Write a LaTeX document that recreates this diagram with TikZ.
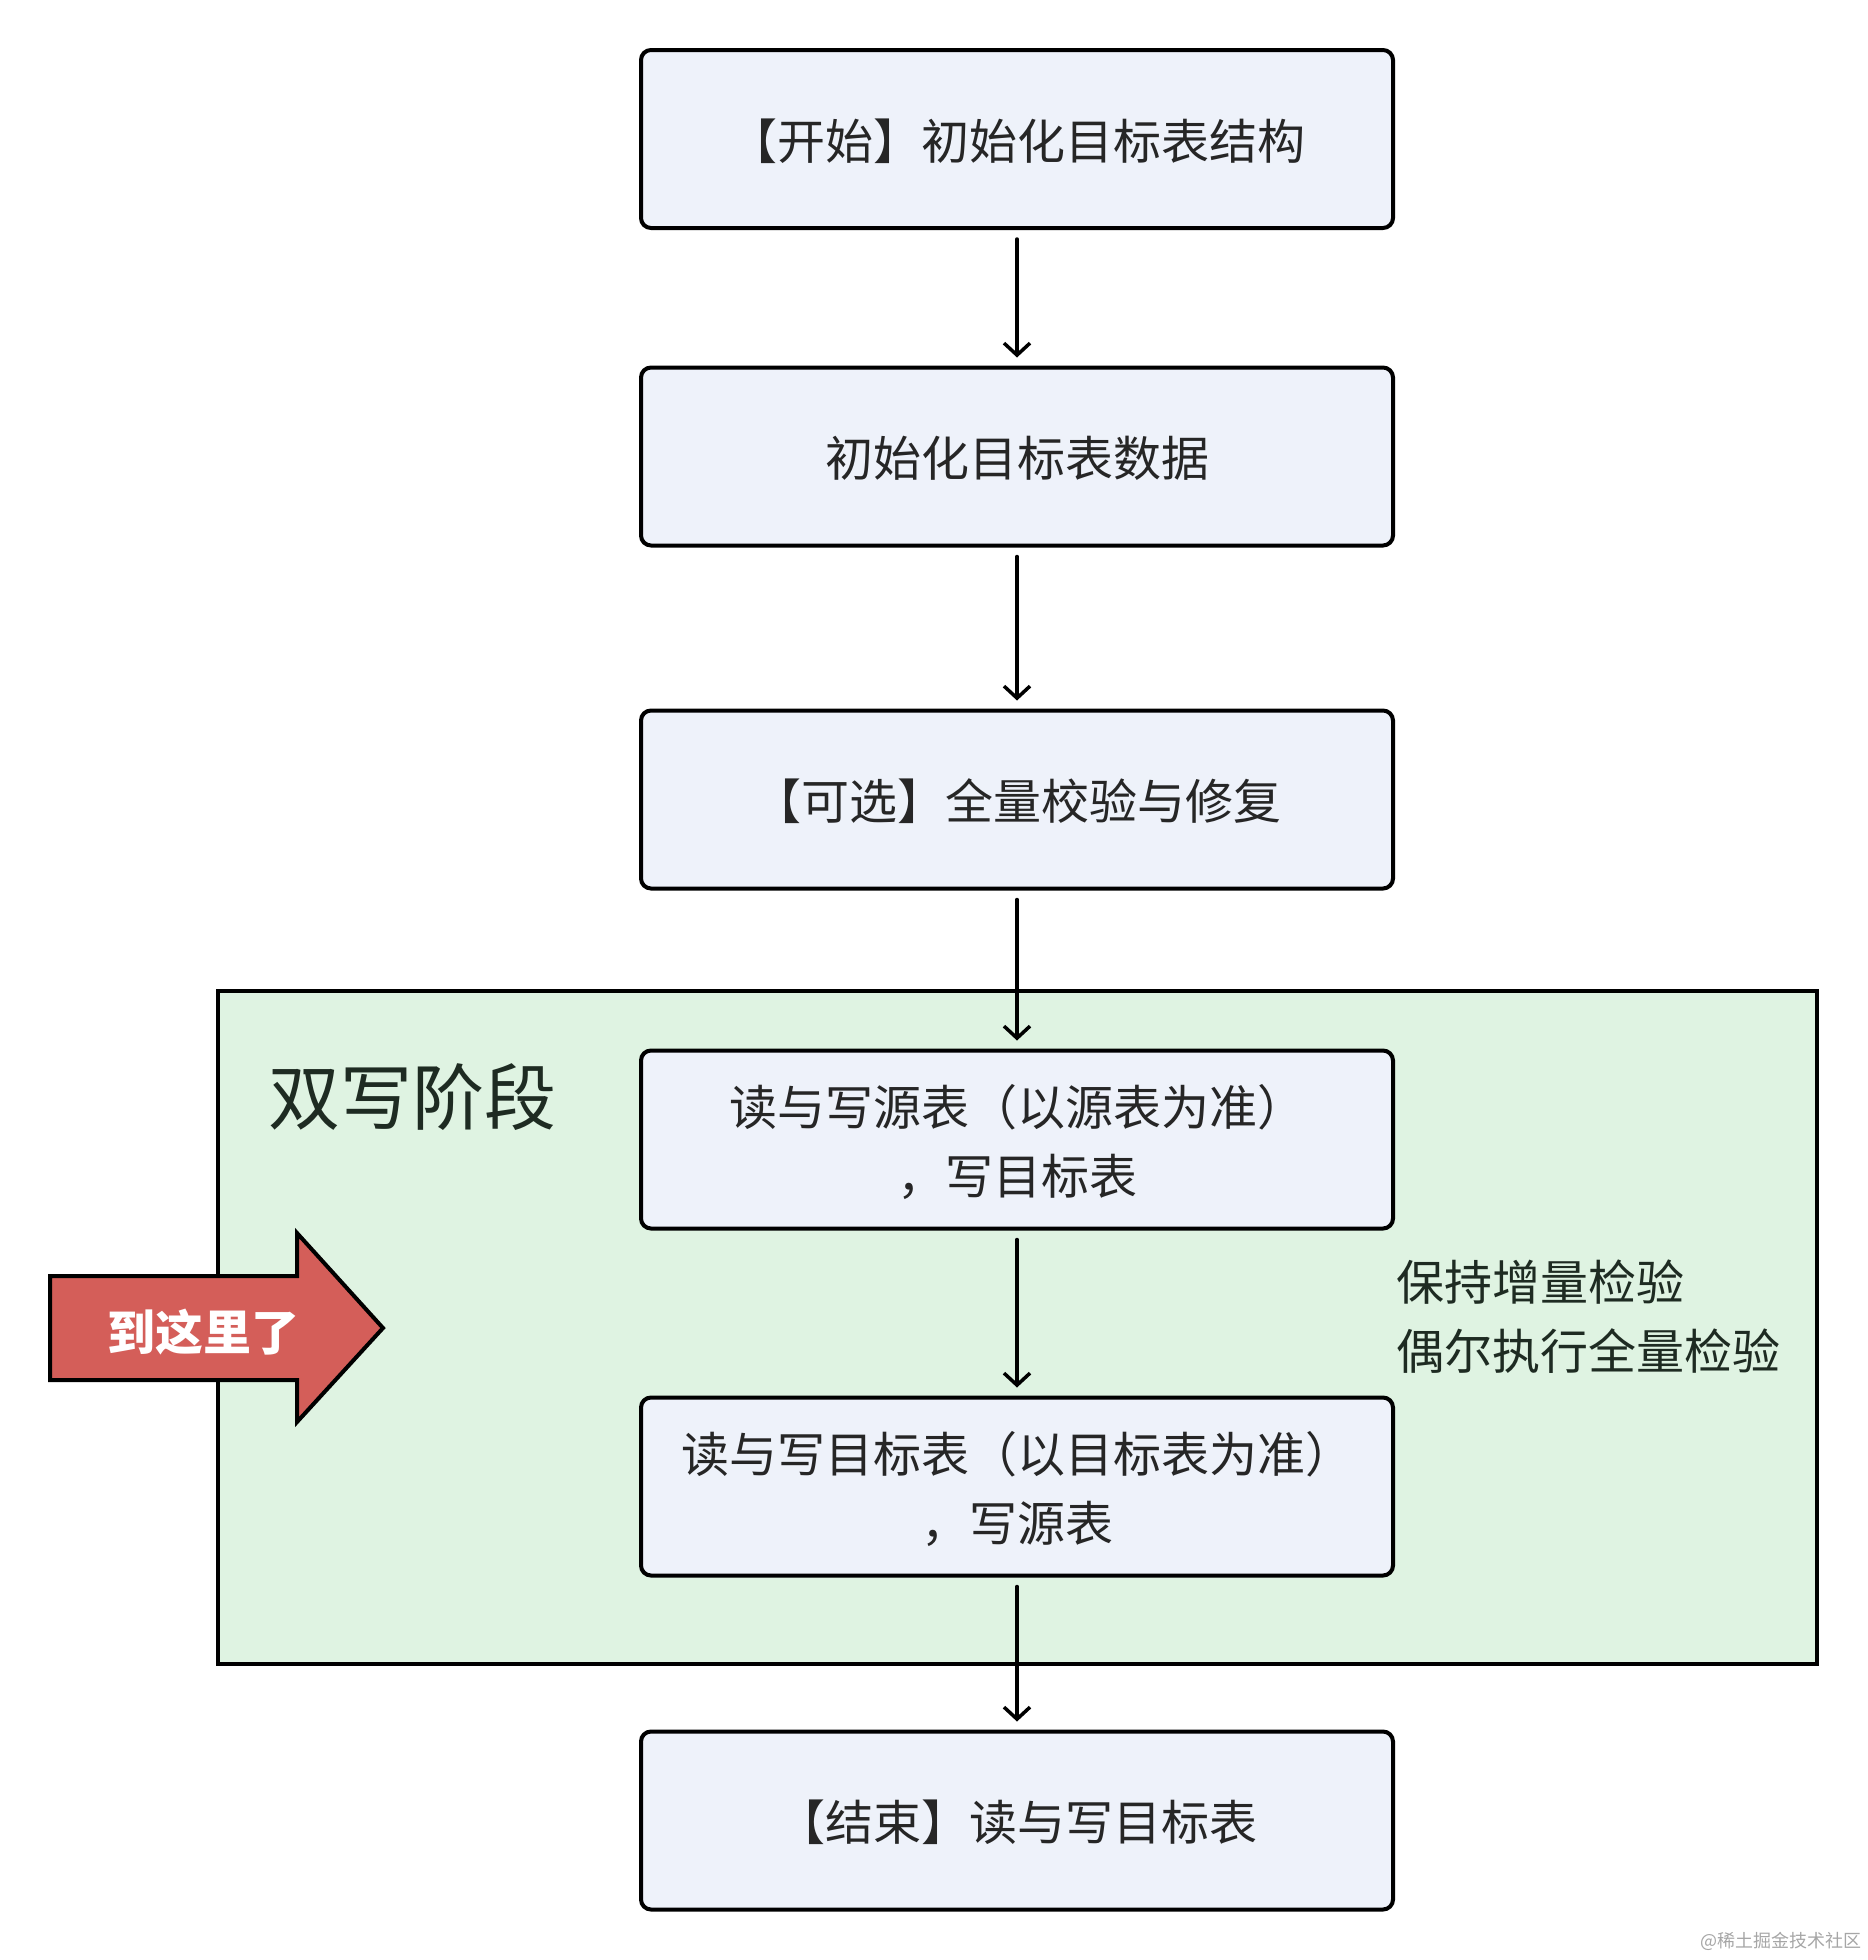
\documentclass[tikz,border=0pt]{standalone}
\usepackage{fontspec}
\setmainfont{Noto Sans CJK SC}
\usetikzlibrary{arrows.meta}
\definecolor{boxfill}{HTML}{EEF2FA}
\definecolor{greenfill}{HTML}{DFF3E2}
\definecolor{arrowred}{HTML}{D45E59}
\definecolor{textdark}{HTML}{262626}
\definecolor{textgreen}{HTML}{1E2B22}
\begin{document}
\begin{tikzpicture}[x=0.5pt,y=-0.5pt,
  flowbox/.style={draw=black, line width=2pt, fill=boxfill, rounded corners=5pt,
    minimum width=376pt, minimum height=89pt, inner sep=0pt, align=center,
    text depth=0pt, font=\fontsize{24}{34.5}\selectfont, text=textdark},
  conn/.style={-{Straight Barb[length=6pt,width=13pt]}, line width=1.75pt,
    line cap=round, shorten <=4.5pt, shorten >=4pt},
  phasebox/.style={draw=black, line width=2pt, fill=greenfill, inner sep=0pt,
    minimum width=799.5pt, minimum height=336.5pt},
  sidetext/.style={font=\fontsize{24}{34.5}\selectfont, text=textgreen, align=left, inner sep=0pt}
]
\useasboundingbox (0,0) rectangle (1868,1960);

% phase container
\node[phasebox] (phase) at (1017.5,1327.5) {};
\node[anchor=west, inner sep=0pt, text=textgreen, font=\fontsize{36}{40}\selectfont] (phasetitle) at (268,1097) {双写阶段};
\node[sidetext, anchor=west] (note) at (1396,1317) {保持增量检验\\偶尔执行全量检验};

% red marker arrow
\draw[fill=arrowred, line width=2pt, line join=miter]
  (50,1276) -- (297,1276) -- (297,1233) -- (383,1328) -- (297,1422) -- (297,1380) -- (50,1380) -- cycle;
\node[text=white, font=\bfseries\fontsize{24}{28}\selectfont, inner sep=0pt] (here) at (203,1332) {到这里了};

% flow boxes
\node[flowbox] (b1) at (1017,139) {【开始】初始化目标表结构};
\node[flowbox] (b2) at (1017,456.5) {初始化目标表数据};
\node[flowbox] (b3) at (1017,799.5) {【可选】全量校验与修复};
\node[flowbox] (b4) at (1017,1139.5) {读与写源表（以源表为准）\\，写目标表};
\node[flowbox] (b5) at (1017,1486.5) {读与写目标表（以目标表为准）\\，写源表};
\node[flowbox] (b6) at (1017,1820.5) {【结束】读与写目标表};

% connectors
\draw[conn] (b1) -- (b2);
\draw[conn] (b2) -- (b3);
\draw[conn] (b3) -- (b4);
\draw[conn] (b4) -- (b5);
\draw[conn] (b5) -- (b6);

% watermark
\node[anchor=east, inner sep=0pt, text=black!35, font=\fontsize{9}{10}\selectfont] (wm) at (1862,1941) {@稀土掘金技术社区};
\end{tikzpicture}
\end{document}
